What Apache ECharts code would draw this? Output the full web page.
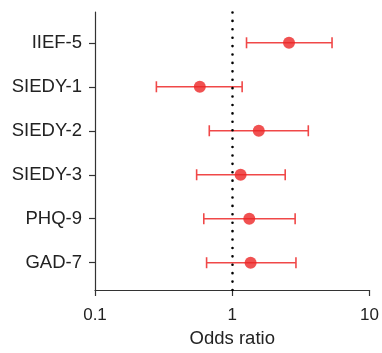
<!DOCTYPE html>
<html>
<head>
<meta charset="utf-8">
<script src="https://cdn.jsdelivr.net/npm/echarts@6/dist/echarts.min.js"></script>
<style>html,body{margin:0;padding:0;background:#fff;overflow:hidden}#c{width:382px;height:353px;position:absolute;left:0;top:0}</style>
</head>
<body>
<div id="c"></div>
<script>
const categories = ['IIEF-5', 'SIEDY-1', 'SIEDY-2', 'SIEDY-3', 'PHQ-9', 'GAD-7'];
const oddsRatio = [2.59, 0.58, 1.56, 1.15, 1.33, 1.36];
const ciLow = [1.27, 0.28, 0.68, 0.55, 0.62, 0.65];
const ciHigh = [5.33, 1.18, 3.58, 2.43, 2.87, 2.91];
const xTicks = [0.1, 1, 10];
const refValue = 1;

const n = categories.length;
const rowPos = categories.map((c, i) => n - i);
const pointData = categories.map((c, i) => [oddsRatio[i], rowPos[i]]);
const ciData = categories.map((c, i) => [rowPos[i], ciLow[i], ciHigh[i]]);

const chart = echarts.init(document.getElementById('c'), null, {renderer: 'canvas', width: 382, height: 353});
const textColor = '#222';
chart.setOption({
  animation: false,
  backgroundColor: '#fff',
  grid: {left: 95, right: 9, top: 12, bottom: 60, containLabel: false},
  xAxis: {
    type: 'log', logBase: 10, min: 0.1, max: 10,
    name: 'Odds ratio', nameLocation: 'middle', nameGap: 39,
    nameTextStyle: {fontFamily: 'Liberation Sans', fontSize: 18.5, color: textColor},
    axisLine: {show: true, lineStyle: {color: '#333', width: 1.2}},
    axisTick: {show: true, length: 6, lineStyle: {color: '#333', width: 1.2}},
    axisLabel: {fontFamily: 'Liberation Sans', fontSize: 17, color: textColor, margin: 17,
      formatter: v => String(v)},
    splitLine: {show: false},
    minorTick: {show: false}
  },
  yAxis: {
    type: 'value', min: 0.38, max: 6.7,
    axisLine: {show: true, lineStyle: {color: '#333', width: 1.2}},
    axisTick: {show: true, length: 6, customValues: rowPos, lineStyle: {color: '#333', width: 1.2}},
    axisLabel: {fontFamily: 'Liberation Sans', fontSize: 18.5, color: textColor, margin: 13,
      customValues: rowPos,
      formatter: v => categories[n - Math.round(v)] || ''},
    splitLine: {show: false}
  },
  series: [
    {
      type: 'custom',
      data: ciData,
      encode: {x: [1, 2], y: 0},
      renderItem: function (params, api) {
        const y = api.value(0);
        const lo = api.coord([api.value(1), y]);
        const hi = api.coord([api.value(2), y]);
        const cap = 5.5;
        const style = {stroke: '#f04848', lineWidth: 1.6, fill: null};
        return {
          type: 'group',
          children: [
            {type: 'line', shape: {x1: lo[0], y1: lo[1], x2: hi[0], y2: hi[1]}, style: style},
            {type: 'line', shape: {x1: lo[0], y1: lo[1] - cap, x2: lo[0], y2: lo[1] + cap}, style: style},
            {type: 'line', shape: {x1: hi[0], y1: hi[1] - cap, x2: hi[0], y2: hi[1] + cap}, style: style}
          ]
        };
      },
      markLine: {
        silent: true,
        symbol: ['none', 'none'],
        label: {show: false},
        lineStyle: {color: '#000', width: 2.6, type: [0.01, 8.4], cap: 'round'},
        data: [{xAxis: refValue}]
      },
      z: 2
    },
    {
      type: 'scatter',
      data: pointData,
      symbol: 'circle',
      symbolSize: 12,
      itemStyle: {color: '#ec2626'},
      z: 3
    }
  ]
});
</script>
</body>
</html>
